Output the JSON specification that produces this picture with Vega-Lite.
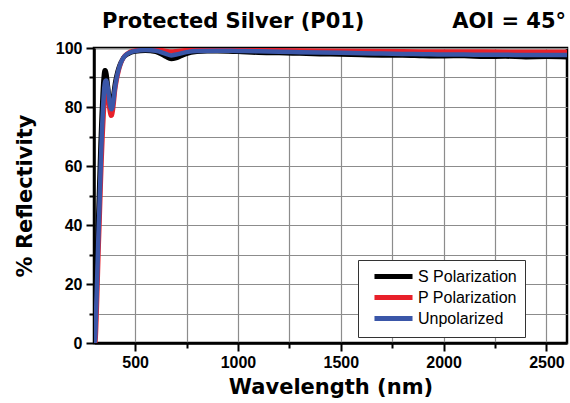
{
  "$schema": "https://vega.github.io/schema/vega-lite/v6.json",
  "width": 473,
  "height": 295,
  "autosize": {"type": "none"},
  "padding": {"left": 94, "top": 48, "right": 3, "bottom": 60},
  "background": "white",
  "title": {
    "text": "Protected Silver (P01)\u00a0\u00a0\u00a0\u00a0\u00a0\u00a0\u00a0\u00a0\u00a0\u00a0\u00a0\u00a0AOI = 45°",
    "anchor": "start",
    "frame": "group",
    "dx": 8,
    "offset": 8,
    "font": "DejaVu Sans",
    "fontWeight": "bold",
    "fontSize": 21,
    "color": "black"
  },
  "config": {
    "view": {"stroke": "black", "strokeWidth": 2.5},
    "axis": {
      "labelFont": "Liberation Sans",
      "labelFontWeight": "bold",
      "labelFontSize": 16,
      "labelColor": "black",
      "titleFont": "DejaVu Sans",
      "titleFontWeight": "bold",
      "titleFontSize": 21,
      "titleColor": "black",
      "domainColor": "black",
      "domainWidth": 2.5,
      "tickColor": "black",
      "tickWidth": 2,
      "gridColor": "#8c8c8c",
      "gridWidth": 1.2,
      "gridOpacity": 1
    }
  },
  "data": {
    "values": [
      {"wl": 300, "R": 0.3, "s": "S Polarization"},
      {"wl": 302, "R": 1, "s": "S Polarization"},
      {"wl": 307, "R": 11, "s": "S Polarization"},
      {"wl": 312, "R": 23, "s": "S Polarization"},
      {"wl": 317, "R": 35, "s": "S Polarization"},
      {"wl": 322, "R": 46, "s": "S Polarization"},
      {"wl": 327, "R": 57, "s": "S Polarization"},
      {"wl": 332, "R": 68, "s": "S Polarization"},
      {"wl": 337, "R": 77, "s": "S Polarization"},
      {"wl": 342, "R": 84.5, "s": "S Polarization"},
      {"wl": 347, "R": 90, "s": "S Polarization"},
      {"wl": 352, "R": 92.5, "s": "S Polarization"},
      {"wl": 357, "R": 92.5, "s": "S Polarization"},
      {"wl": 362, "R": 90.5, "s": "S Polarization"},
      {"wl": 367, "R": 87.5, "s": "S Polarization"},
      {"wl": 372, "R": 84.5, "s": "S Polarization"},
      {"wl": 377, "R": 82, "s": "S Polarization"},
      {"wl": 382, "R": 80.8, "s": "S Polarization"},
      {"wl": 387, "R": 81, "s": "S Polarization"},
      {"wl": 392, "R": 83, "s": "S Polarization"},
      {"wl": 397, "R": 85.5, "s": "S Polarization"},
      {"wl": 402, "R": 88, "s": "S Polarization"},
      {"wl": 410, "R": 90.8, "s": "S Polarization"},
      {"wl": 420, "R": 93.3, "s": "S Polarization"},
      {"wl": 430, "R": 95.1, "s": "S Polarization"},
      {"wl": 440, "R": 96.4, "s": "S Polarization"},
      {"wl": 450, "R": 97.2, "s": "S Polarization"},
      {"wl": 475, "R": 98.3, "s": "S Polarization"},
      {"wl": 500, "R": 98.8, "s": "S Polarization"},
      {"wl": 550, "R": 99.1, "s": "S Polarization"},
      {"wl": 600, "R": 98.7, "s": "S Polarization"},
      {"wl": 625, "R": 98.0, "s": "S Polarization"},
      {"wl": 650, "R": 97.0, "s": "S Polarization"},
      {"wl": 675, "R": 96.3, "s": "S Polarization"},
      {"wl": 700, "R": 96.6, "s": "S Polarization"},
      {"wl": 725, "R": 97.3, "s": "S Polarization"},
      {"wl": 750, "R": 98.0, "s": "S Polarization"},
      {"wl": 800, "R": 98.7, "s": "S Polarization"},
      {"wl": 850, "R": 98.9, "s": "S Polarization"},
      {"wl": 900, "R": 98.9, "s": "S Polarization"},
      {"wl": 1000, "R": 98.7, "s": "S Polarization"},
      {"wl": 1100, "R": 98.4, "s": "S Polarization"},
      {"wl": 1200, "R": 98.3, "s": "S Polarization"},
      {"wl": 1300, "R": 98.1, "s": "S Polarization"},
      {"wl": 1400, "R": 97.9, "s": "S Polarization"},
      {"wl": 1500, "R": 97.8, "s": "S Polarization"},
      {"wl": 1600, "R": 97.6, "s": "S Polarization"},
      {"wl": 1700, "R": 97.5, "s": "S Polarization"},
      {"wl": 1800, "R": 97.5, "s": "S Polarization"},
      {"wl": 1900, "R": 97.3, "s": "S Polarization"},
      {"wl": 2000, "R": 97.2, "s": "S Polarization"},
      {"wl": 2100, "R": 97.3, "s": "S Polarization"},
      {"wl": 2200, "R": 97.0, "s": "S Polarization"},
      {"wl": 2300, "R": 97.1, "s": "S Polarization"},
      {"wl": 2400, "R": 96.9, "s": "S Polarization"},
      {"wl": 2500, "R": 97.0, "s": "S Polarization"},
      {"wl": 2600, "R": 96.9, "s": "S Polarization"},

      {"wl": 303, "R": 0, "s": "P Polarization"},
      {"wl": 307, "R": 0.5, "s": "P Polarization"},
      {"wl": 312, "R": 8, "s": "P Polarization"},
      {"wl": 317, "R": 19, "s": "P Polarization"},
      {"wl": 322, "R": 31, "s": "P Polarization"},
      {"wl": 327, "R": 41, "s": "P Polarization"},
      {"wl": 332, "R": 52, "s": "P Polarization"},
      {"wl": 337, "R": 62, "s": "P Polarization"},
      {"wl": 342, "R": 70.5, "s": "P Polarization"},
      {"wl": 347, "R": 77.5, "s": "P Polarization"},
      {"wl": 352, "R": 82.5, "s": "P Polarization"},
      {"wl": 357, "R": 85.5, "s": "P Polarization"},
      {"wl": 362, "R": 86, "s": "P Polarization"},
      {"wl": 367, "R": 84, "s": "P Polarization"},
      {"wl": 372, "R": 81, "s": "P Polarization"},
      {"wl": 377, "R": 78.5, "s": "P Polarization"},
      {"wl": 382, "R": 77, "s": "P Polarization"},
      {"wl": 387, "R": 77.2, "s": "P Polarization"},
      {"wl": 392, "R": 79, "s": "P Polarization"},
      {"wl": 397, "R": 82, "s": "P Polarization"},
      {"wl": 402, "R": 85.5, "s": "P Polarization"},
      {"wl": 410, "R": 89, "s": "P Polarization"},
      {"wl": 420, "R": 92.3, "s": "P Polarization"},
      {"wl": 430, "R": 94.7, "s": "P Polarization"},
      {"wl": 440, "R": 96.3, "s": "P Polarization"},
      {"wl": 450, "R": 97.4, "s": "P Polarization"},
      {"wl": 475, "R": 98.7, "s": "P Polarization"},
      {"wl": 500, "R": 99.2, "s": "P Polarization"},
      {"wl": 550, "R": 99.5, "s": "P Polarization"},
      {"wl": 600, "R": 99.5, "s": "P Polarization"},
      {"wl": 650, "R": 99.0, "s": "P Polarization"},
      {"wl": 675, "R": 98.8, "s": "P Polarization"},
      {"wl": 700, "R": 98.9, "s": "P Polarization"},
      {"wl": 750, "R": 99.3, "s": "P Polarization"},
      {"wl": 800, "R": 99.4, "s": "P Polarization"},
      {"wl": 900, "R": 99.4, "s": "P Polarization"},
      {"wl": 1000, "R": 99.3, "s": "P Polarization"},
      {"wl": 1200, "R": 99.2, "s": "P Polarization"},
      {"wl": 1400, "R": 99.1, "s": "P Polarization"},
      {"wl": 1600, "R": 99.0, "s": "P Polarization"},
      {"wl": 1800, "R": 98.9, "s": "P Polarization"},
      {"wl": 2000, "R": 98.8, "s": "P Polarization"},
      {"wl": 2200, "R": 98.8, "s": "P Polarization"},
      {"wl": 2400, "R": 98.7, "s": "P Polarization"},
      {"wl": 2600, "R": 98.7, "s": "P Polarization"},

      {"wl": 301, "R": 0, "s": "Unpolarized"},
      {"wl": 305, "R": 1, "s": "Unpolarized"},
      {"wl": 310, "R": 10, "s": "Unpolarized"},
      {"wl": 315, "R": 21, "s": "Unpolarized"},
      {"wl": 320, "R": 33, "s": "Unpolarized"},
      {"wl": 325, "R": 43, "s": "Unpolarized"},
      {"wl": 330, "R": 54, "s": "Unpolarized"},
      {"wl": 335, "R": 65, "s": "Unpolarized"},
      {"wl": 340, "R": 74, "s": "Unpolarized"},
      {"wl": 345, "R": 81, "s": "Unpolarized"},
      {"wl": 350, "R": 86.5, "s": "Unpolarized"},
      {"wl": 355, "R": 88.8, "s": "Unpolarized"},
      {"wl": 360, "R": 89, "s": "Unpolarized"},
      {"wl": 365, "R": 87.5, "s": "Unpolarized"},
      {"wl": 370, "R": 85, "s": "Unpolarized"},
      {"wl": 375, "R": 82, "s": "Unpolarized"},
      {"wl": 380, "R": 80, "s": "Unpolarized"},
      {"wl": 385, "R": 79.2, "s": "Unpolarized"},
      {"wl": 390, "R": 80, "s": "Unpolarized"},
      {"wl": 395, "R": 82.5, "s": "Unpolarized"},
      {"wl": 400, "R": 85.5, "s": "Unpolarized"},
      {"wl": 410, "R": 89.8, "s": "Unpolarized"},
      {"wl": 420, "R": 92.8, "s": "Unpolarized"},
      {"wl": 430, "R": 94.9, "s": "Unpolarized"},
      {"wl": 440, "R": 96.3, "s": "Unpolarized"},
      {"wl": 450, "R": 97.3, "s": "Unpolarized"},
      {"wl": 475, "R": 98.5, "s": "Unpolarized"},
      {"wl": 500, "R": 99.0, "s": "Unpolarized"},
      {"wl": 550, "R": 99.3, "s": "Unpolarized"},
      {"wl": 600, "R": 99.1, "s": "Unpolarized"},
      {"wl": 650, "R": 98.0, "s": "Unpolarized"},
      {"wl": 675, "R": 97.5, "s": "Unpolarized"},
      {"wl": 700, "R": 97.8, "s": "Unpolarized"},
      {"wl": 750, "R": 98.6, "s": "Unpolarized"},
      {"wl": 800, "R": 99.0, "s": "Unpolarized"},
      {"wl": 900, "R": 99.1, "s": "Unpolarized"},
      {"wl": 1000, "R": 99.0, "s": "Unpolarized"},
      {"wl": 1100, "R": 98.9, "s": "Unpolarized"},
      {"wl": 1200, "R": 98.7, "s": "Unpolarized"},
      {"wl": 1300, "R": 98.6, "s": "Unpolarized"},
      {"wl": 1400, "R": 98.5, "s": "Unpolarized"},
      {"wl": 1500, "R": 98.4, "s": "Unpolarized"},
      {"wl": 1600, "R": 98.2, "s": "Unpolarized"},
      {"wl": 1700, "R": 98.1, "s": "Unpolarized"},
      {"wl": 1800, "R": 98.0, "s": "Unpolarized"},
      {"wl": 1900, "R": 97.9, "s": "Unpolarized"},
      {"wl": 2000, "R": 97.8, "s": "Unpolarized"},
      {"wl": 2100, "R": 97.8, "s": "Unpolarized"},
      {"wl": 2200, "R": 97.7, "s": "Unpolarized"},
      {"wl": 2300, "R": 97.7, "s": "Unpolarized"},
      {"wl": 2400, "R": 97.6, "s": "Unpolarized"},
      {"wl": 2500, "R": 97.6, "s": "Unpolarized"},
      {"wl": 2600, "R": 97.6, "s": "Unpolarized"}
    ]
  },
  "mark": {"type": "line", "strokeWidth": 4.5, "interpolate": "monotone", "clip": true},
  "encoding": {
    "x": {
      "field": "wl",
      "type": "quantitative",
      "scale": {"domain": [300, 2600], "nice": false, "zero": false},
      "axis": {
        "title": "Wavelength (nm)",
        "values": [500, 750, 1000, 1250, 1500, 1750, 2000, 2250, 2500],
        "labelExpr": "datum.value % 500 === 0 ? datum.label : ''",
        "format": "d",
        "tickSize": {"condition": {"test": "datum.value % 500 === 0", "value": 8}, "value": 5},
        "labelPadding": 3,
        "titlePadding": 6
      }
    },
    "y": {
      "field": "R",
      "type": "quantitative",
      "scale": {"domain": [0, 100], "nice": false},
      "axis": {
        "title": "% Reflectivity",
        "values": [0, 10, 20, 30, 40, 50, 60, 70, 80, 90, 100],
        "labelExpr": "datum.value % 20 === 0 ? datum.label : ''",
        "tickSize": {"condition": {"test": "datum.value % 20 === 0", "value": 8}, "value": 5},
        "labelPadding": 4,
        "titlePadding": 20
      }
    },
    "color": {
      "field": "s",
      "type": "nominal",
      "sort": ["S Polarization", "P Polarization", "Unpolarized"],
      "scale": {
        "domain": ["S Polarization", "P Polarization", "Unpolarized"],
        "range": ["#000000", "#e8202a", "#3a56a8"]
      },
      "legend": {
        "title": null,
        "orient": "none",
        "legendX": 264,
        "legendY": 212,
        "symbolType": "M-3.17,0H3.17",
        "symbolSize": 144,
        "symbolStrokeWidth": 5,
        "labelFont": "Liberation Sans",
        "labelFontSize": 16,
        "labelColor": "black",
        "labelOffset": 16,
        "rowPadding": 0,
        "padding": 8,
        "symbolOffset": 19,
        "strokeColor": "#333333",
        "fillColor": "white"
      }
    },
    "order": {"field": "wl", "type": "quantitative"}
  }
}
